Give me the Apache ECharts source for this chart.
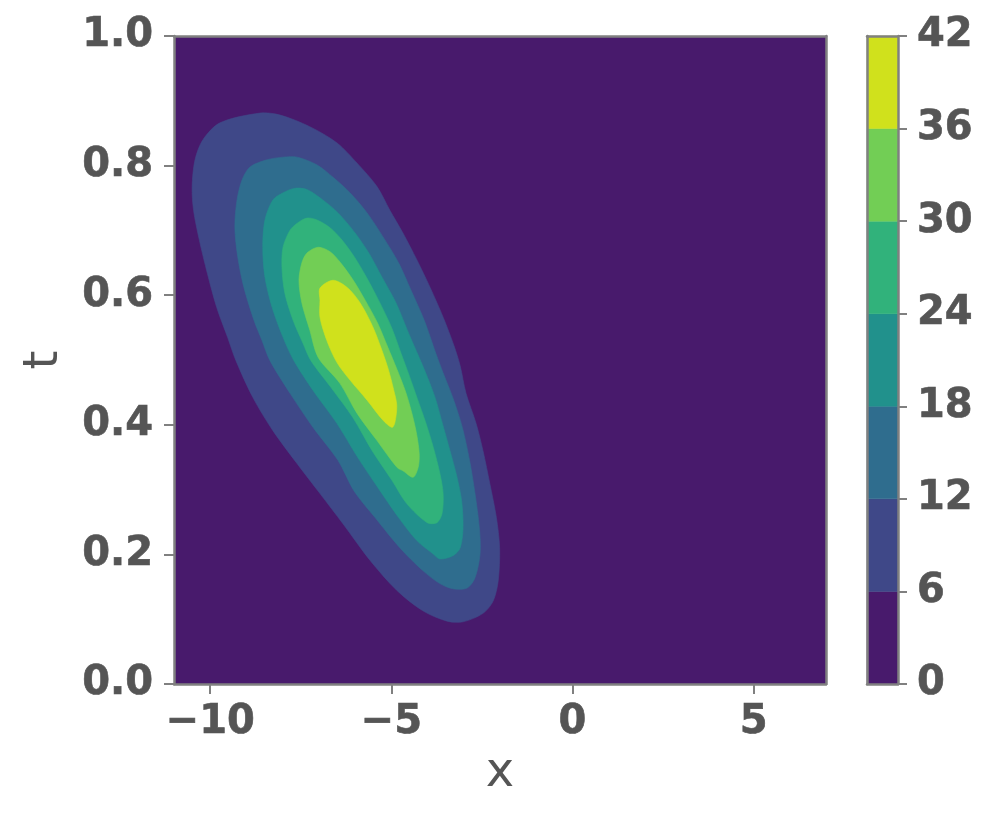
<!DOCTYPE html>
<html><head><meta charset="utf-8">
<script src="https://cdn.jsdelivr.net/npm/echarts@6/dist/echarts.min.js"></script>
<style>html,body{margin:0;padding:0;background:#fff}#c{width:997px;height:825px}</style>
</head><body><div id="c"></div>
<script>
// axis extents and ticks
const xRange = [-11, 7];
const tRange = [0, 1];
const xTicks = [-10, -5, 0, 5];
const tInterval = 0.2;
// contour levels (colorbar ticks) and viridis fill colours per band
const levels = [0, 6, 12, 18, 24, 30, 36, 42];
const levelColors = ['#481a6c', '#3f4888', '#2f6d8e', '#21918c', '#31b27b', '#72ce55', '#d0e11c'];

// contour boundaries (x, t), one closed polygon per level
const contour6 = [[-10.20,0.840],[-9.73,0.866],[-8.63,0.881],[-8.07,0.878],[-7.25,0.860],[-6.50,0.835],[-5.95,0.804],[-5.40,0.768],[-5.04,0.731],[-4.68,0.696],[-4.29,0.654],[-3.93,0.612],[-3.57,0.566],[-3.27,0.522],[-3.10,0.491],[-2.94,0.449],[-2.66,0.402],[-2.47,0.360],[-2.28,0.309],[-2.10,0.257],[-2.01,0.210],[-2.05,0.159],[-2.19,0.128],[-2.47,0.109],[-3.02,0.096],[-3.46,0.097],[-4.13,0.113],[-4.84,0.144],[-5.59,0.191],[-6.33,0.247],[-6.97,0.294],[-7.60,0.340],[-8.27,0.391],[-8.82,0.442],[-9.29,0.499],[-9.52,0.535],[-9.82,0.581],[-10.08,0.634],[-10.30,0.685],[-10.46,0.731],[-10.50,0.767],[-10.42,0.809]];
const contour12 = [[-9.12,0.778],[-8.90,0.798],[-8.43,0.809],[-7.99,0.813],[-7.60,0.813],[-7.05,0.801],[-6.61,0.782],[-6.14,0.758],[-5.67,0.727],[-5.23,0.690],[-4.80,0.650],[-4.46,0.608],[-4.09,0.561],[-3.77,0.510],[-3.57,0.480],[-3.29,0.440],[-3.04,0.396],[-2.84,0.345],[-2.69,0.294],[-2.57,0.241],[-2.55,0.201],[-2.69,0.164],[-2.91,0.148],[-3.30,0.147],[-3.66,0.155],[-4.13,0.175],[-4.76,0.210],[-5.45,0.257],[-6.03,0.298],[-6.47,0.345],[-7.16,0.396],[-7.80,0.449],[-8.35,0.499],[-8.57,0.530],[-8.79,0.561],[-9.07,0.612],[-9.24,0.659],[-9.32,0.705],[-9.26,0.747]];
const contour18 = [[-8.27,0.747],[-7.99,0.758],[-7.66,0.765],[-7.33,0.763],[-6.89,0.747],[-6.47,0.727],[-6.00,0.696],[-5.62,0.665],[-5.26,0.628],[-4.87,0.588],[-4.52,0.541],[-4.24,0.505],[-4.00,0.473],[-3.78,0.440],[-3.58,0.400],[-3.38,0.360],[-3.19,0.320],[-3.06,0.283],[-3.02,0.241],[-3.10,0.210],[-3.30,0.198],[-3.66,0.193],[-3.85,0.201],[-4.29,0.221],[-4.80,0.257],[-5.37,0.303],[-5.92,0.349],[-6.50,0.402],[-7.16,0.453],[-7.69,0.499],[-7.99,0.535],[-8.29,0.581],[-8.49,0.628],[-8.55,0.674],[-8.49,0.716]];
const contour24 = [[-7.80,0.700],[-7.60,0.711],[-7.33,0.719],[-7.05,0.716],[-6.69,0.704],[-6.36,0.685],[-6.02,0.659],[-5.69,0.628],[-5.35,0.592],[-5.00,0.551],[-4.73,0.510],[-4.50,0.475],[-4.28,0.440],[-4.06,0.405],[-3.84,0.365],[-3.66,0.325],[-3.57,0.294],[-3.60,0.263],[-3.74,0.249],[-4.01,0.249],[-4.57,0.278],[-4.98,0.314],[-5.53,0.360],[-6.06,0.411],[-6.67,0.458],[-7.22,0.499],[-7.44,0.526],[-7.71,0.561],[-7.94,0.603],[-8.02,0.643],[-7.99,0.674]];
const contour30 = [[-7.47,0.650],[-7.33,0.665],[-7.02,0.674],[-6.69,0.667],[-6.40,0.650],[-6.05,0.623],[-5.72,0.592],[-5.38,0.557],[-5.10,0.520],[-4.84,0.485],[-4.60,0.450],[-4.42,0.415],[-4.30,0.385],[-4.23,0.355],[-4.26,0.334],[-4.40,0.319],[-4.68,0.329],[-4.84,0.334],[-5.40,0.376],[-5.95,0.418],[-6.42,0.464],[-7.02,0.504],[-7.25,0.546],[-7.47,0.588],[-7.55,0.623]];
const contour36 = [[-6.97,0.611],[-6.61,0.623],[-6.22,0.612],[-5.86,0.588],[-5.51,0.551],[-5.26,0.515],[-5.08,0.485],[-4.94,0.455],[-4.85,0.430],[-4.90,0.404],[-4.98,0.396],[-5.23,0.407],[-5.67,0.438],[-6.14,0.469],[-6.50,0.496],[-6.78,0.530],[-6.97,0.566],[-6.97,0.592]];

const baseLayer = [[xRange[0], tRange[0]], [xRange[1], tRange[0]], [xRange[1], tRange[1]], [xRange[0], tRange[1]]];
const layers = [baseLayer, contour6, contour12, contour18, contour24, contour30, contour36];

const chart = echarts.init(document.getElementById('c'), null, {renderer: 'canvas'});
const txt = '#555555';
const frame = '#808080';
const tickFont = {fontFamily: 'DejaVu Sans', fontWeight: 'bold', fontSize: 40, color: txt,
                  textBorderColor: txt, textBorderWidth: 0.6};
const minus = v => String(v).replace('-', '\u2212');
const frameAxis = (extra) => Object.assign({
  type: 'value', z: 5, axisLine: {show: true, onZero: false, lineStyle: {color: frame, width: 2.5}},
  axisTick: {show: false}, axisLabel: {show: false}, splitLine: {show: false}}, extra);

const option = {
  animation: false,
  backgroundColor: '#ffffff',
  grid: [
    {left: 174, top: 36, width: 652, height: 648, containLabel: false},
    {left: 867, top: 36, width: 31, height: 648, containLabel: false}
  ],
  xAxis: [
    {gridIndex: 0, type: 'value', min: xRange[0], max: xRange[1], position: 'bottom', z: 5,
     name: 'x', nameLocation: 'middle', nameGap: 66,
     nameTextStyle: {fontFamily: 'DejaVu Sans', fontSize: 48, color: txt},
     axisLine: {show: true, onZero: false, lineStyle: {color: frame, width: 2.5}},
     axisTick: {show: true, inside: false, length: 10, customValues: xTicks, lineStyle: {color: frame, width: 2}},
     axisLabel: Object.assign({margin: 19, customValues: xTicks, formatter: minus}, tickFont),
     splitLine: {show: false}},
    frameAxis({gridIndex: 0, min: xRange[0], max: xRange[1], position: 'top'}),
    frameAxis({gridIndex: 1, min: 0, max: 1, position: 'bottom'}),
    frameAxis({gridIndex: 1, min: 0, max: 1, position: 'top'})
  ],
  yAxis: [
    {gridIndex: 0, type: 'value', min: tRange[0], max: tRange[1], interval: tInterval, position: 'left', z: 5,
     name: 't', nameLocation: 'middle', nameGap: 105, nameRotate: 90,
     nameTextStyle: {fontFamily: 'DejaVu Sans', fontSize: 48, color: txt},
     axisLine: {show: true, onZero: false, lineStyle: {color: frame, width: 2.5}},
     axisTick: {show: true, inside: false, length: 10, lineStyle: {color: frame, width: 2}},
     axisLabel: Object.assign({margin: 21, formatter: v => v.toFixed(1)}, tickFont),
     splitLine: {show: false}},
    frameAxis({gridIndex: 0, min: tRange[0], max: tRange[1], position: 'right'}),
    {gridIndex: 1, type: 'value', min: levels[0], max: levels[levels.length - 1], interval: 6, position: 'right', z: 5,
     axisLine: {show: true, onZero: false, lineStyle: {color: frame, width: 2.5}},
     axisTick: {show: true, inside: false, length: 9, lineStyle: {color: frame, width: 2}},
     axisLabel: Object.assign({margin: 19}, tickFont),
     splitLine: {show: false}},
    frameAxis({gridIndex: 1, min: levels[0], max: levels[levels.length - 1], position: 'left'})
  ],
  series: [
    {type: 'custom', coordinateSystem: 'cartesian2d', xAxisIndex: 0, yAxisIndex: 0, z: 1, clip: true,
     data: layers.map(p => p[0]),
     renderItem: function (params, api) {
       const poly = layers[params.dataIndex];
       const color = levelColors[params.dataIndex];
       return {
         type: 'polygon',
         shape: {points: poly.map(p => api.coord(p)), smooth: params.dataIndex === 0 ? 0 : 0.3},
         style: {fill: color, stroke: color, lineWidth: 0.6}
       };
     }},
    {type: 'custom', coordinateSystem: 'cartesian2d', xAxisIndex: 2, yAxisIndex: 2, z: 1,
     data: levelColors.map((c, i) => [0, levels[i], levels[i + 1]]),
     renderItem: function (params, api) {
       const a = api.coord([0, api.value(1)]);
       const b = api.coord([1, api.value(2)]);
       return {
         type: 'rect',
         shape: {x: a[0], y: b[1], width: b[0] - a[0], height: a[1] - b[1]},
         style: {fill: levelColors[params.dataIndex], stroke: levelColors[params.dataIndex], lineWidth: 0.5}
       };
     }}
  ]
};
chart.setOption(option);
</script>
</body></html>
